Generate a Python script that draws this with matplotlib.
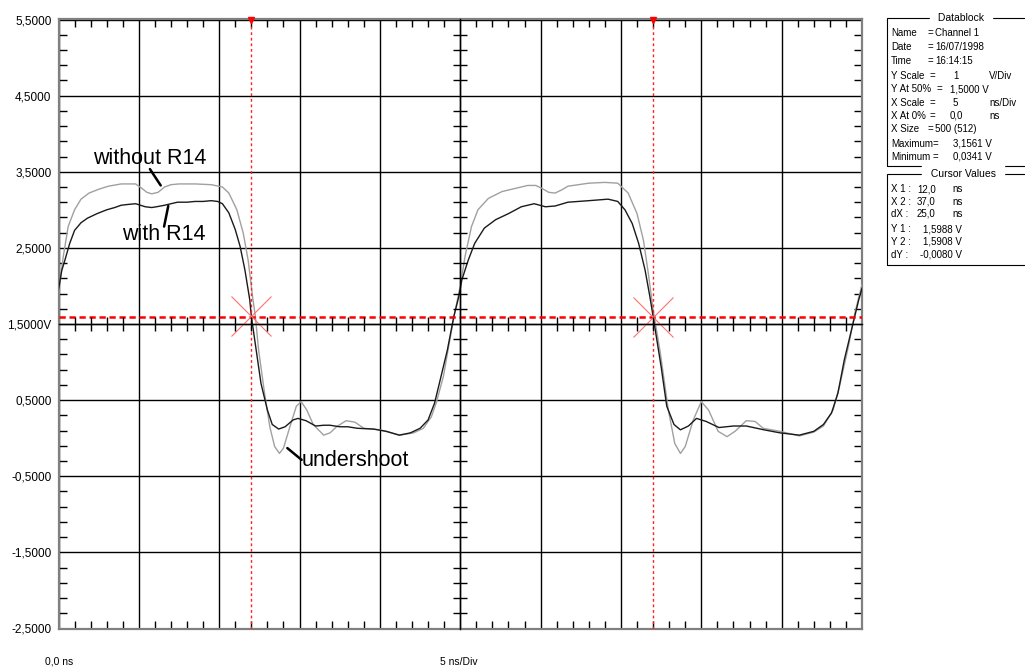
import numpy as np
import matplotlib.pyplot as plt
from matplotlib.patches import Rectangle

plt.rcParams['font.family'] = ['Liberation Sans', 'DejaVu Sans']

# trace "with R14" (black)
t_with = [0.0, 0.2, 0.4, 0.7, 1.0, 1.4, 1.8, 2.4, 3.0, 3.5, 3.9, 4.3, 4.8, 5.1, 5.4, 5.8,
          6.1, 6.6, 7.0, 7.4, 8.0, 8.5, 9.0, 9.5, 9.9, 10.2, 10.6, 11.0, 11.3, 11.6, 11.9,
          12.0, 12.3, 12.6, 13.0, 13.3, 13.7, 14.1, 14.6, 14.9, 15.4, 16.0, 16.5, 16.9,
          17.5, 18.0, 18.6, 19.6, 20.4, 21.2, 21.9, 22.5, 23.0, 23.4, 23.7, 24.2, 24.6,
          24.9, 25.1, 25.5, 25.9, 26.5, 27.2, 28.0, 28.8, 29.6, 30.3, 30.9, 31.7, 33.0,
          34.2, 34.8, 35.25, 35.7, 36.1, 36.5, 36.8, 37.0, 37.5, 37.85, 38.3, 38.7, 39.2,
          39.7, 40.3, 41.1, 42.0, 42.8, 43.9, 44.9, 46.1, 47.0, 47.6, 48.1, 48.5, 48.9,
          49.4, 49.8, 50.0]
v_with = [1.95, 2.2, 2.34, 2.56, 2.73, 2.83, 2.89, 2.95, 3.0, 3.03, 3.06, 3.07, 3.08, 3.06,
          3.04, 3.03, 3.04, 3.06, 3.08, 3.10, 3.10, 3.11, 3.11, 3.12, 3.11, 3.08, 2.96, 2.74,
          2.52, 2.21, 1.82, 1.6, 1.16, 0.72, 0.37, 0.18, 0.12, 0.15, 0.24, 0.26, 0.23, 0.16,
          0.17, 0.17, 0.15, 0.15, 0.13, 0.12, 0.09, 0.04, 0.07, 0.13, 0.24, 0.46, 0.72, 1.16,
          1.6, 1.85, 2.08, 2.34, 2.56, 2.76, 2.87, 2.95, 3.04, 3.08, 3.04, 3.05, 3.10, 3.12,
          3.14, 3.11, 3.0, 2.82, 2.56, 2.21, 1.86, 1.6, 0.94, 0.42, 0.18, 0.11, 0.16, 0.26,
          0.22, 0.14, 0.16, 0.16, 0.11, 0.07, 0.04, 0.09, 0.18, 0.33, 0.59, 1.03, 1.47, 1.82,
          1.97]

# trace "without R14" (grey)
t_without = [0.0, 0.3, 0.6, 1.0, 1.4, 1.9, 2.5, 3.1, 3.9, 4.8, 5.2, 5.5, 5.8, 6.2, 6.6, 7.0,
             7.5, 8.5, 9.5, 10.2, 10.6, 11.1, 11.5, 11.8, 12.1, 12.25, 12.45, 12.85, 13.15,
             13.45, 13.75, 14.0, 14.4, 14.8, 15.1, 15.45, 15.85, 16.5, 16.9, 17.3, 17.9,
             18.45, 19.0, 20.0, 21.25, 22.1, 22.7, 23.2, 23.5, 23.95, 24.35, 24.65, 25.0,
             25.3, 25.7, 26.1, 26.75, 27.6, 28.4, 29.2, 29.7, 30.1, 30.5, 30.9, 31.3, 31.7,
             33.0, 34.0, 34.8, 35.45, 36.0, 36.4, 36.7, 37.0, 37.45, 37.95, 38.35, 38.7,
             39.0, 39.5, 40.0, 40.45, 41.05, 41.6, 42.1, 42.8, 43.35, 43.85, 44.9, 46.1,
             47.0, 47.6, 48.2, 48.6, 49.15, 49.55, 50.0]
v_without = [1.9, 2.39, 2.78, 3.0, 3.14, 3.22, 3.27, 3.31, 3.34, 3.34, 3.28, 3.23, 3.21, 3.23,
             3.30, 3.33, 3.34, 3.34, 3.33, 3.30, 3.22, 3.0, 2.69, 2.34, 1.82, 1.6, 1.16, 0.55,
             0.15, -0.11, -0.2, -0.13, 0.15, 0.42, 0.48, 0.37, 0.18, 0.04, 0.07, 0.15, 0.23,
             0.21, 0.13, 0.11, 0.04, 0.07, 0.13, 0.28, 0.46, 0.81, 1.29, 1.64, 2.0, 2.39, 2.78,
             3.0, 3.15, 3.24, 3.28, 3.32, 3.32, 3.28, 3.23, 3.22, 3.26, 3.31, 3.35, 3.36, 3.35,
             3.22, 2.95, 2.6, 2.17, 1.69, 1.12, 0.37, -0.07, -0.2, -0.11, 0.24, 0.48, 0.37,
             0.09, 0.02, 0.09, 0.23, 0.22, 0.13, 0.09, 0.03, 0.08, 0.16, 0.37, 0.68, 1.2, 1.64,
             2.02]

cursor_x = [12.0, 37.0]
cursor_y = [1.5988, 1.5908]

ytick_vals = [-2.5, -1.5, -0.5, 0.5, 1.5, 2.5, 3.5, 4.5, 5.5]
ytick_labels = ['-2,5000', '-1,5000', '-0,5000', '0,5000', '1,5000V', '2,5000', '3,5000',
                '4,5000', '5,5000']

# label, value, unit
db_labels = ['Name', 'Date', 'Time', 'Y Scale', 'Y At 50%', 'X Scale', 'X At 0%', 'X Size',
             'Maximum', 'Minimum']
db_values = ['Channel 1', '16/07/1998', '16:14:15', '1', '1,5000 V', '5', '0,0', '500 (512)',
             '3,1561 V', '0,0341 V']
db_units = ['', '', '', 'V/Div', '', 'ns/Div', 'ns', '', '', '']
cv_labels = ['X 1 :', 'X 2 :', 'dX :', 'Y 1 :', 'Y 2 :', 'dY :']
cv_values = ['12,0', '37,0', '25,0', '1,5988 V', '1,5908 V', '-0,0080 V']
cv_units = ['ns', 'ns', 'ns', '', '', '']

W, H = 1025, 668
fig = plt.figure(figsize=(W / 100, H / 100), dpi=100)
rect = [58.5 / W, 1 - 628.5 / H, (862 - 58.5) / W, (628.5 - 19.5) / H]
ax = fig.add_axes(rect)
ax.set_xlim(0, 50)
ax.set_ylim(-2.5, 5.5)

ax.set_xticks(np.arange(0, 51, 5))
ax.set_xticks(np.arange(0, 51, 1), minor=True)
ax.set_yticks(ytick_vals)
ax.set_yticklabels(ytick_labels)
ax.set_yticks(np.arange(-2.5, 5.51, 0.2), minor=True)
ax.tick_params(which='major', length=0, labelbottom=False, labelsize=8.5, pad=5)
ax.tick_params(which='minor', direction='in', length=5.5, width=1, color='black',
               top=True, right=True)
ax.grid(which='major', color='black', lw=1)
for s in ax.spines.values():
    s.set_color('#808080')
    s.set_linewidth(1.6)

# centre cross with ticks
ax2 = fig.add_axes(rect, sharex=ax, sharey=ax)
ax2.patch.set_visible(False)
ax2.spines['left'].set_position(('data', 25))
ax2.spines['bottom'].set_position(('data', 1.5))
ax2.spines['right'].set_visible(False)
ax2.spines['top'].set_visible(False)
for s in ['left', 'bottom']:
    ax2.spines[s].set_color('black')
    ax2.spines[s].set_linewidth(1)
ax2.tick_params(which='both', direction='inout', length=10, width=1,
                labelleft=False, labelbottom=False)
ax2.tick_params(which='major', length=0)

ax.plot(t_without, v_without, color='#a0a0a0', lw=1, zorder=3)
ax.plot(t_with, v_with, color='#1a1a1a', lw=1, zorder=4)

# cursors
for cx in cursor_x:
    ax.axvline(cx, color='#ff2020', lw=1, ls=(0, (2, 2)), zorder=5)
ax.axhline(np.mean(cursor_y), color='#ff0000', lw=1.8, ls=(0, (2.5, 1.5)), zorder=5)
ax.plot(cursor_x, cursor_y, 'x', color='#ff7070', ms=29, mew=0.8, zorder=6)
ax.plot(cursor_x, [5.5, 5.5], 'v', color='red', ms=5, clip_on=False, zorder=7)

# annotations
fs = 15.5
line = dict(arrowstyle='-', lw=1.8, color='black', shrinkA=0, shrinkB=0)
ax.text(5.7, 3.67, 'without R14', fontsize=fs, ha='center', va='center')
ax.annotate('', xy=(6.36, 3.32), xytext=(5.69, 3.535), arrowprops=line)
ax.text(6.55, 2.67, 'with R14', fontsize=fs, ha='center', va='center')
ax.annotate('', xy=(6.83, 3.05), xytext=(6.57, 2.78), arrowprops=line)
ax.text(18.48, -0.29, 'undershoot', fontsize=fs, ha='center', va='center')
ax.annotate('', xy=(14.24, -0.13), xytext=(15.13, -0.285), arrowprops=line)

# bottom labels
fig.text(45 / W, 1 - 662 / H, '0,0 ns', fontsize=7.5, va='center')
fig.text(440 / W, 1 - 662 / H, '5 ns/Div', fontsize=7.5, va='center')


# datablock panel
def px(x, y):
    return x / W, 1 - y / H


fs2 = 7
box1 = Rectangle(px(887, 166), 200 / W, (166 - 18) / H, transform=fig.transFigure,
                 fill=False, ec='black', lw=0.8)
box2 = Rectangle(px(887, 265), 200 / W, (265 - 174) / H, transform=fig.transFigure,
                 fill=False, ec='black', lw=0.8)
fig.add_artist(box1)
fig.add_artist(box2)
fig.text(*px(961, 18), ' Datablock ', fontsize=fs2 + 0.5, ha='center', va='center',
         backgroundcolor='white')
fig.text(*px(963, 174), ' Cursor Values ', fontsize=fs2 + 0.5, ha='center', va='center',
         backgroundcolor='white')

row_y = [33, 47, 61, 76, 89, 103, 116, 129, 144, 157]
eq_x = [928, 928, 928, 930, 937, 930, 930, 928, 933, 933]
val_x = [935, 935, 935, 953, 950, 953, 950, 935, 953, 953]
for i, y in enumerate(row_y):
    fig.text(*px(891, y), db_labels[i], fontsize=fs2, va='center')
    fig.text(*px(eq_x[i], y), '=', fontsize=fs2, va='center')
    fig.text(*px(val_x[i], y), db_values[i], fontsize=fs2, va='center')
    if db_units[i]:
        fig.text(*px(989, y), db_units[i], fontsize=fs2, va='center')

row_y2 = [189, 202, 214, 229, 242, 255]
cv_x = [917, 917, 917, 923, 923, 920]
for i, y in enumerate(row_y2):
    fig.text(*px(891, y), cv_labels[i], fontsize=fs2, va='center')
    fig.text(*px(cv_x[i], y), cv_values[i], fontsize=fs2, va='center')
    if cv_units[i]:
        fig.text(*px(952, y), cv_units[i], fontsize=fs2, va='center')

fig.savefig('out.png', dpi=100)
